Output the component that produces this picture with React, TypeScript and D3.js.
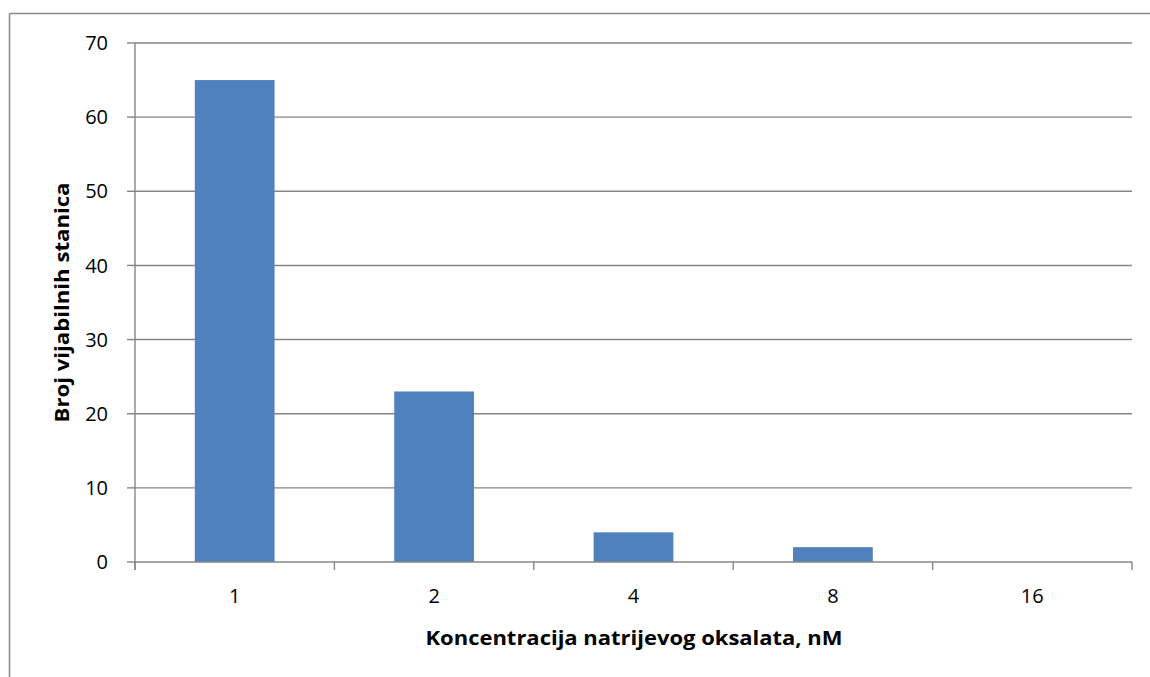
import React from 'react';
import * as d3 from 'd3';

const categories = ['1', '2', '4', '8', '16'];
const values = [65, 23, 4, 2, 0];
const yTicks = [0, 10, 20, 30, 40, 50, 60, 70];

const App: React.FC = () => {
  const width = 1150;
  const height = 677;
  const margin = { top: 43, right: 18, bottom: 115, left: 135 };
  const grey = '#868686';
  const font = 'Open Sans, sans-serif';

  const x = d3
    .scaleBand<string>()
    .domain(categories)
    .range([margin.left, width - margin.right])
    .paddingInner(0.6)
    .paddingOuter(0.3);

  // band edges for tick marks
  const edges = d3
    .range(categories.length + 1)
    .map((i) => margin.left + i * ((width - margin.right - margin.left) / categories.length));

  const y = d3.scaleLinear().domain([0, 70]).range([height - margin.bottom, margin.top]);
  const yBase = y(0);

  return (
    <svg
      width={width}
      height={height}
      style={{ position: 'absolute', left: 0, top: 0, background: '#fff' }}
      fontFamily={font}
    >
      {/* outer chart border (runs off the right and bottom edges) */}
      <line x1={9.5} x2={width} y1={13.5} y2={13.5} stroke="#898989" strokeWidth={1.5} />
      <line x1={9.5} x2={9.5} y1={13.5} y2={height} stroke="#898989" strokeWidth={1.5} />

      {/* gridlines */}
      {yTicks.map((t) => (
        <g key={t}>
          {t > 0 && (
            <line x1={margin.left} x2={width - margin.right} y1={y(t)} y2={y(t)} stroke={grey} strokeWidth={1.4} />
          )}
          <line x1={margin.left - 8} x2={margin.left} y1={y(t)} y2={y(t)} stroke={grey} strokeWidth={1.4} />
          <text x={108} y={y(t)} dy="0.36em" textAnchor="end" fontSize={20} fill="#000">
            {t}
          </text>
        </g>
      ))}

      {/* bars */}
      {categories.map((c, i) => (
        <rect key={c} x={x(c)} width={x.bandwidth()} y={y(values[i])} height={yBase - y(values[i])} fill="#4F81BD" />
      ))}

      {/* axes */}
      <line x1={margin.left} x2={margin.left} y1={margin.top} y2={yBase + 8} stroke={grey} strokeWidth={1.4} />
      <line x1={margin.left} x2={width - margin.right} y1={yBase} y2={yBase} stroke={grey} strokeWidth={1.4} />
      {edges.map((e, i) => (
        <line key={i} x1={e} x2={e} y1={yBase} y2={yBase + 8} stroke={grey} strokeWidth={1.4} />
      ))}
      {categories.map((c) => (
        <text key={c} x={(x(c) ?? 0) + x.bandwidth() / 2} y={596} dy="0.36em" textAnchor="middle" fontSize={20} fill="#000">
          {c}
        </text>
      ))}

      <text
        x={634}
        y={638}
        dy="0.36em"
        textAnchor="middle"
        fontSize={20}
        fontWeight="bold"
        fill="#000"
        textLength={417}
        lengthAdjust="spacingAndGlyphs"
      >
        Koncentracija natrijevog oksalata, nM
      </text>
      <text
        transform={`translate(62,${(margin.top + yBase) / 2}) rotate(-90)`}
        dy="0.36em"
        textAnchor="middle"
        fontSize={20}
        fontWeight="bold"
        fill="#000"
        textLength={240}
        lengthAdjust="spacingAndGlyphs"
      >
        Broj vijabilnih stanica
      </text>
    </svg>
  );
};

export default App;
